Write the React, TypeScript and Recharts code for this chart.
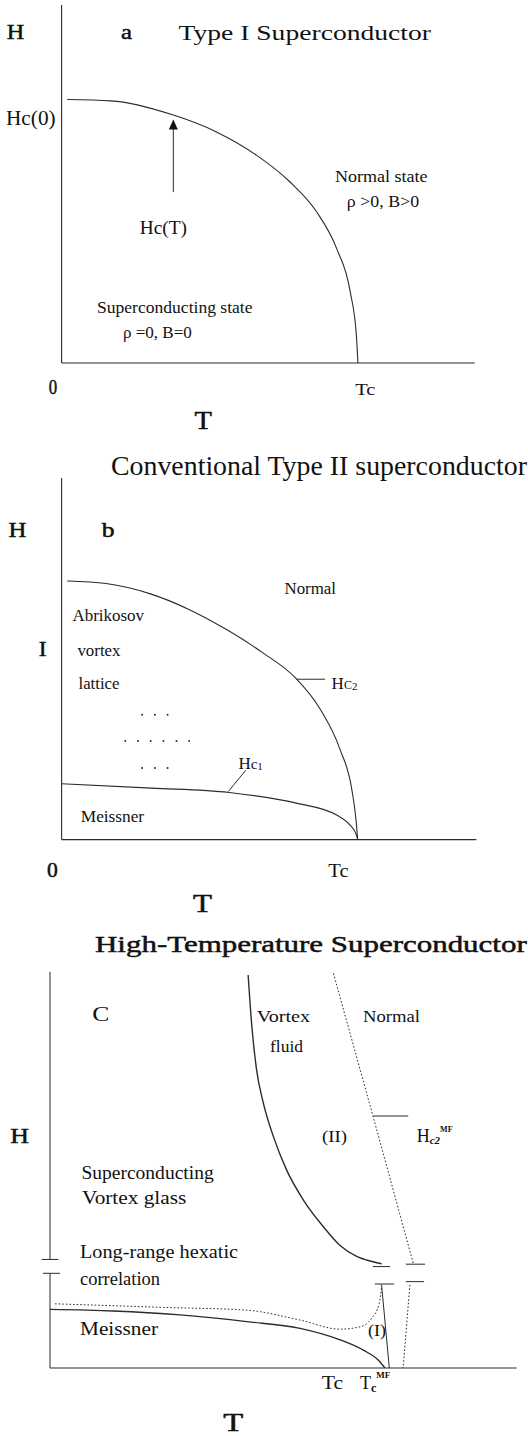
import React from "react";
import { LineChart, Line, XAxis, YAxis, ReferenceLine } from "recharts";

type Pt = { t: number; h: number };

// Panel a: Type I. t = T/Tc, h = H/Hc(0)
const hcCurveA: Pt[] = [
  { t: 0.019, h: 1.0 },
  { t: 0.167, h: 0.995 },
  { t: 0.372, h: 0.943 },
  { t: 0.519, h: 0.879 },
  { t: 0.656, h: 0.79 },
  { t: 0.77, h: 0.688 },
  { t: 0.861, h: 0.573 },
  { t: 0.928, h: 0.435 },
  { t: 0.974, h: 0.27 },
  { t: 0.995, h: 0.1 },
  { t: 1.0, h: 0.0 },
];
const hcArrowA = { t: 0.377, from: 0.649, to: 0.924 };

// Panel b: conventional type II. h = H/Hc2(0)
const hc2CurveB: Pt[] = [
  { t: 0.019, h: 1.0 },
  { t: 0.15, h: 0.99 },
  { t: 0.3, h: 0.95 },
  { t: 0.43, h: 0.89 },
  { t: 0.56, h: 0.81 },
  { t: 0.68, h: 0.722 },
  { t: 0.79, h: 0.625 },
  { t: 0.873, h: 0.505 },
  { t: 0.94, h: 0.35 },
  { t: 0.98, h: 0.195 },
  { t: 0.995, h: 0.07 },
  { t: 1.0, h: 0.0 },
];
const hc1CurveB: Pt[] = [
  { t: 0.0, h: 0.216 },
  { t: 0.304, h: 0.199 },
  { t: 0.566, h: 0.182 },
  { t: 0.793, h: 0.141 },
  { t: 0.929, h: 0.095 },
  { t: 0.975, h: 0.055 },
  { t: 0.995, h: 0.02 },
  { t: 1.0, h: 0.0 },
];
const latticeDotsB: Pt[] = [
  { t: 0.272, h: 0.483 }, { t: 0.315, h: 0.483 }, { t: 0.358, h: 0.483 },
  { t: 0.215, h: 0.381 }, { t: 0.258, h: 0.381 }, { t: 0.301, h: 0.381 },
  { t: 0.344, h: 0.381 }, { t: 0.388, h: 0.381 }, { t: 0.431, h: 0.381 },
  { t: 0.272, h: 0.277 }, { t: 0.315, h: 0.277 }, { t: 0.358, h: 0.277 },
];
const hc2LeaderB: Pt[] = [{ t: 0.793, h: 0.62 }, { t: 0.89, h: 0.62 }];
const hc1LeaderB: Pt[] = [{ t: 0.563, h: 0.186 }, { t: 0.622, h: 0.268 }];

// Panel c: high-Tc. h scaled to the top of the axis
const meltingLineC: Pt[] = [
  { t: 0.588, h: 0.992 },
  { t: 0.599, h: 0.862 },
  { t: 0.613, h: 0.753 },
  { t: 0.633, h: 0.669 },
  { t: 0.663, h: 0.584 },
  { t: 0.702, h: 0.5 },
  { t: 0.752, h: 0.424 },
  { t: 0.811, h: 0.357 },
  { t: 0.86, h: 0.31 },
  { t: 0.91, h: 0.282 },
  { t: 0.95, h: 0.27 },
  { t: 0.984, h: 0.263 },
];
const hc2MfC: Pt[] = [
  { t: 0.841, h: 0.996 },
  { t: 0.959, h: 0.634 },
  { t: 1.078, h: 0.264 },
];
const hc2MfLeaderC: Pt[] = [{ t: 0.959, h: 0.636 }, { t: 1.063, h: 0.636 }];
const meissnerC: Pt[] = [
  { t: 0.0, h: 0.148 },
  { t: 0.188, h: 0.144 },
  { t: 0.386, h: 0.134 },
  { t: 0.584, h: 0.117 },
  { t: 0.742, h: 0.1 },
  { t: 0.861, h: 0.071 },
  { t: 0.93, h: 0.045 },
  { t: 0.974, h: 0.02 },
  { t: 0.994, h: 0.0 },
];
const hexaticC: Pt[] = [
  { t: 0.015, h: 0.162 },
  { t: 0.336, h: 0.153 },
  { t: 0.584, h: 0.146 },
  { t: 0.742, h: 0.121 },
  { t: 0.861, h: 0.098 },
  { t: 0.92, h: 0.104 },
  { t: 0.955, h: 0.126 },
  { t: 0.977, h: 0.163 },
  { t: 0.984, h: 0.205 },
];
const tcLineC: Pt[] = [{ t: 0.984, h: 0.21 }, { t: 1.007, h: 0.0 }];
const tcMfLineC: Pt[] = [{ t: 1.068, h: 0.21 }, { t: 1.048, h: 0.0 }];
const yAxisSpansC = [
  { from: 0.274, to: 1.0 },
  { from: 0.0, to: 0.239 },
];
const breakMarksC = [
  { t1: -0.025, t2: 0.025, h: 0.274 },
  { t1: -0.021, t2: 0.03, h: 0.239 },
  { t1: 0.958, t2: 1.009, h: 0.256 },
  { t1: 0.964, t2: 1.021, h: 0.212 },
  { t1: 1.056, t2: 1.113, h: 0.262 },
  { t1: 1.056, t2: 1.11, h: 0.218 },
];

const INK = "#2b2b2b";
const FONT = "'Liberation Serif', 'Times New Roman', serif";

type Lbl = { s: string; x: number; y: number; w: number; fs: number; heavy?: boolean };

const plainLabels: Lbl[] = [
  // a
  { s: "H", x: 6.7, y: 38.7, w: 17.5, fs: 21, heavy: true },
  { s: "a", x: 121, y: 38.7, w: 11, fs: 21, heavy: true },
  { s: "Type I Superconductor", x: 178.5, y: 39.5, w: 252.5, fs: 22 },
  { s: "Hc(0)", x: 6, y: 125, w: 49.6, fs: 20 },
  { s: "Hc(T)", x: 139.7, y: 234, w: 47.2, fs: 19 },
  { s: "Normal state", x: 335, y: 181.8, w: 92.6, fs: 17 },
  { s: "ρ >0, B>0", x: 346.8, y: 207, w: 72.4, fs: 17 },
  { s: "Superconducting state", x: 97, y: 313, w: 155.5, fs: 17 },
  { s: "ρ =0, B=0", x: 122.9, y: 338.4, w: 69, fs: 17 },
  { s: "0", x: 48.8, y: 394, w: 8.4, fs: 20, heavy: true },
  { s: "Tc", x: 355.2, y: 394.6, w: 20.2, fs: 17 },
  { s: "T", x: 194.6, y: 429, w: 17.4, fs: 25, heavy: true },
  { s: "Conventional Type II superconductor", x: 111, y: 474.7, w: 416, fs: 27 },
  // b
  { s: "H", x: 8.4, y: 537.2, w: 17.9, fs: 21, heavy: true },
  { s: "b", x: 101.7, y: 537.2, w: 12.8, fs: 21, heavy: true },
  { s: "Normal", x: 284.5, y: 593.8, w: 51.5, fs: 16 },
  { s: "Abrikosov", x: 72.4, y: 621.4, w: 71.7, fs: 16 },
  { s: "I", x: 38.7, y: 655.8, w: 7.8, fs: 22, heavy: true },
  { s: "vortex", x: 77.4, y: 655.8, w: 43.1, fs: 16 },
  { s: "lattice", x: 78.5, y: 689.4, w: 41, fs: 16 },
  { s: "Meissner", x: 80.8, y: 821.8, w: 63.3, fs: 16 },
  { s: "0", x: 47.1, y: 877.3, w: 10.8, fs: 20, heavy: true },
  { s: "Tc", x: 328.3, y: 877.3, w: 20.2, fs: 19 },
  { s: "T", x: 193, y: 912, w: 19, fs: 25, heavy: true },
  { s: "High-Temperature Superconductor", x: 95, y: 952.3, w: 431.7, fs: 24, heavy: true },
  // c
  { s: "C", x: 92.3, y: 1021.4, w: 17.1, fs: 22 },
  { s: "H", x: 10.3, y: 1143.4, w: 18.7, fs: 22, heavy: true },
  { s: "Vortex", x: 256.7, y: 1021.7, w: 53.3, fs: 17 },
  { s: "fluid", x: 270, y: 1051.7, w: 33, fs: 17 },
  { s: "Normal", x: 363, y: 1021.7, w: 57, fs: 17 },
  { s: "(II)", x: 322, y: 1141.7, w: 25, fs: 17 },
  { s: "Superconducting", x: 81.4, y: 1178.6, w: 132.3, fs: 18 },
  { s: "Vortex glass", x: 82, y: 1204.3, w: 104.3, fs: 18 },
  { s: "Long-range hexatic", x: 80, y: 1258.3, w: 158, fs: 18 },
  { s: "correlation", x: 80, y: 1285, w: 80, fs: 18 },
  { s: "Meissner", x: 80, y: 1335, w: 78, fs: 18 },
  { s: "(I)", x: 368, y: 1336, w: 18, fs: 17 },
  { s: "Tc", x: 321.7, y: 1389.3, w: 21.3, fs: 18 },
  { s: "T", x: 223.3, y: 1431, w: 20, fs: 25, heavy: true },
];

function ArrowShape(p: any) {
  const { x1, y1, x2, y2 } = p;
  return (
    <g>
      <line x1={x1} y1={y1} x2={x2} y2={y2 + 9} stroke={INK} strokeWidth={1} />
      <polygon points={`${x2},${y2} ${x2 - 4.5},${y2 + 10} ${x2 + 4.5},${y2 + 10}`} fill="#111" />
    </g>
  );
}

function curve(data: Pt[], key: string, dotted = false, width = 1.1) {
  return (
    <Line
      key={key}
      data={data}
      dataKey="h"
      type="monotone"
      dot={false}
      stroke={INK}
      strokeWidth={width}
      strokeDasharray={dotted ? "1.6 2" : undefined}
      isAnimationActive={false}
    />
  );
}

function seg(a: Pt, b: Pt, key: string, dotted = false) {
  return (
    <ReferenceLine
      key={key}
      segment={[{ x: a.t, y: a.h }, { x: b.t, y: b.h }]}
      stroke={INK}
      strokeWidth={1}
      strokeDasharray={dotted ? "1.6 2" : undefined}
      ifOverflow="visible"
    />
  );
}

function Frame(props: {
  top: number;
  height: number;
  margin: { top: number; right: number; bottom: number; left: number };
  xMax: number;
  yMax: number;
  showY?: boolean;
  children: React.ReactNode;
}) {
  const { top, height, margin, xMax, yMax, showY = true, children } = props;
  return (
    <div style={{ position: "absolute", left: 0, top }}>
      <LineChart width={528} height={height} margin={margin}>
        <XAxis type="number" dataKey="t" domain={[0, xMax]} allowDataOverflow hide />
        <YAxis type="number" dataKey="h" domain={[0, yMax]} allowDataOverflow hide />
        {/* axes drawn as reference lines so they sit exactly on the plot edges */}
        <ReferenceLine y={0} stroke={INK} strokeWidth={1.1} ifOverflow="visible" />
        {showY && <ReferenceLine x={0} stroke={INK} strokeWidth={1.1} ifOverflow="visible" />}
        {children}
      </LineChart>
    </div>
  );
}

export default function App() {
  return (
    <div style={{ position: "absolute", left: 0, top: 0, width: 528, height: 1436, background: "#fff", overflow: "hidden" }}>
      <Frame top={0} height={440} margin={{ top: 5, right: 53.3, bottom: 77, left: 61.6 }} xMax={1.394} yMax={1.359}>
        {curve(hcCurveA, "hc")}
        <ReferenceLine
          segment={[{ x: hcArrowA.t, y: hcArrowA.from }, { x: hcArrowA.t, y: hcArrowA.to }]}
          shape={ArrowShape}
          ifOverflow="visible"
        />
      </Frame>

      <Frame top={470} height={440} margin={{ top: 8, right: 51.6, bottom: 70.4, left: 61.6 }} xMax={1.401} yMax={1.398}>
        {curve(hc2CurveB, "hc2")}
        {curve(hc1CurveB, "hc1")}
        <Line
          data={latticeDotsB}
          dataKey="h"
          stroke="none"
          dot={{ r: 1, fill: INK, stroke: "none" }}
          isAnimationActive={false}
        />
        {seg(hc2LeaderB[0], hc2LeaderB[1], "l2")}
        {seg(hc1LeaderB[0], hc1LeaderB[1], "l1")}
      </Frame>

      <Frame top={960} height={476} margin={{ top: 11.8, right: 11.3, bottom: 68, left: 50 }} xMax={1.385} yMax={1} showY={false}>
        {yAxisSpansC.map((s, i) => seg({ t: 0, h: s.from }, { t: 0, h: s.to }, "ya" + i))}
        {breakMarksC.map((b, i) => seg({ t: b.t1, h: b.h }, { t: b.t2, h: b.h }, "br" + i))}
        {curve(meltingLineC, "melt", false, 1.4)}
        {curve(hc2MfC, "hc2mf", true, 1)}
        {seg(hc2MfLeaderC[0], hc2MfLeaderC[1], "lmf")}
        {curve(meissnerC, "meis", false, 1.4)}
        {curve(hexaticC, "hex", true, 1)}
        {seg(tcLineC[0], tcLineC[1], "tc")}
        {seg(tcMfLineC[0], tcMfLineC[1], "tcmf", true)}
      </Frame>

      <svg width={528} height={1436} style={{ position: "absolute", left: 0, top: 0, pointerEvents: "none" }} fontFamily={FONT} fill="#111">
        {plainLabels.map((l, i) => (
          <text
            key={i}
            x={l.x}
            y={l.y}
            fontSize={l.fs}
            stroke={l.heavy ? "#111" : "none"}
            strokeWidth={l.heavy ? 0.5 : 0}
            textLength={l.w}
            lengthAdjust="spacingAndGlyphs"
          >
            {l.s}
          </text>
        ))}
        <text x={331.6} y={688.8} fontSize={17}>
          H<tspan fontSize={12}>C</tspan><tspan fontSize={11} dy={1}>2</tspan>
        </text>
        <text x={238.4} y={768.9} fontSize={17}>
          H<tspan fontSize={15}>c</tspan><tspan fontSize={11} dy={1}>1</tspan>
        </text>
        <text x={416.7} y={1141.7} fontSize={18}>
          H<tspan fontSize={11} dy={2} fontStyle="italic" fontWeight="bold">c2</tspan>
          <tspan fontSize={8} dy={-12} fontWeight="bold">MF</tspan>
        </text>
        <text x={360} y={1389.3} fontSize={18}>
          T<tspan fontSize={12} dy={3} fontWeight="bold">c</tspan>
          <tspan fontSize={9} dy={-14} fontWeight="bold">MF</tspan>
        </text>
      </svg>
    </div>
  );
}
